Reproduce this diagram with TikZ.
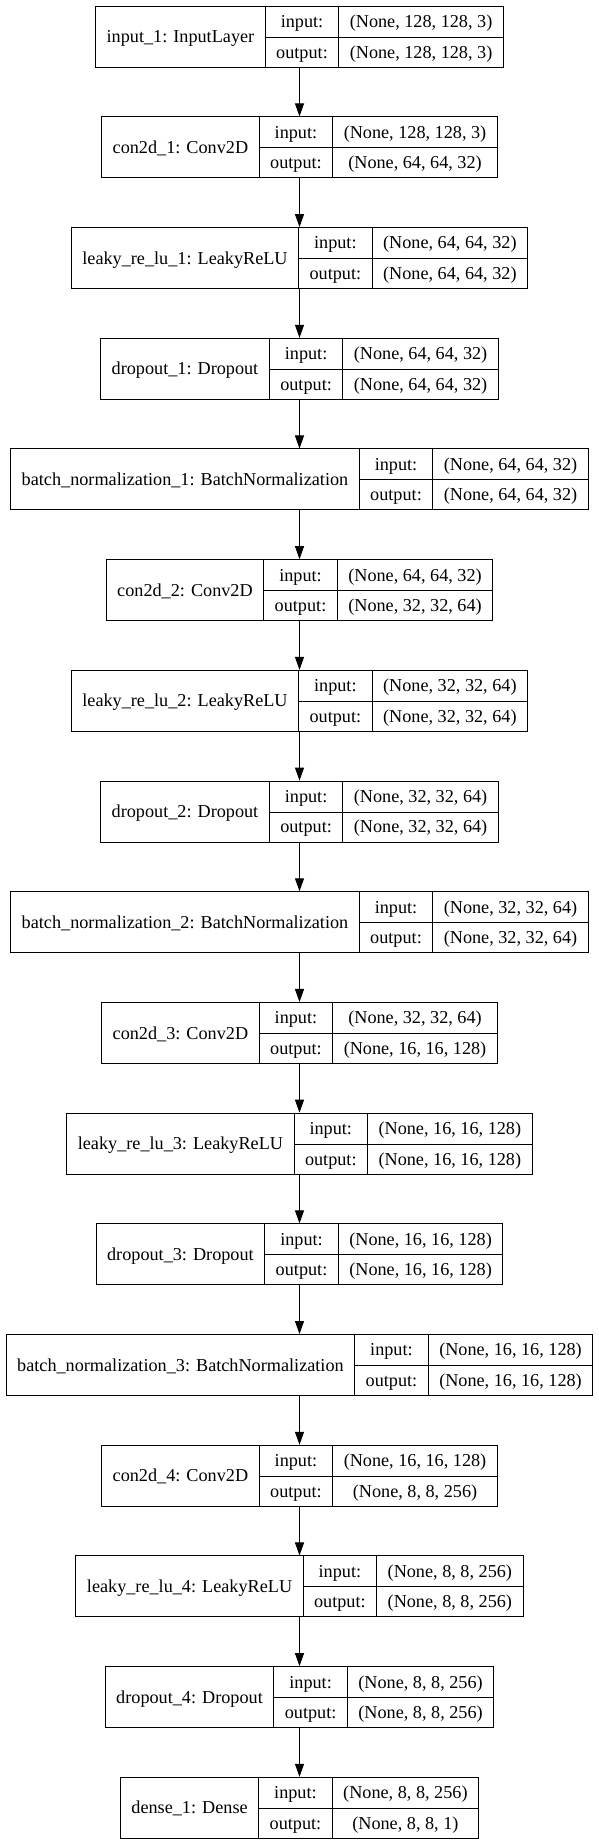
\documentclass[tikz,border=0pt]{standalone}
\usepackage{fontspec}
\setmainfont{Liberation Serif}
\usetikzlibrary{arrows.meta,positioning}

\setlength{\tabcolsep}{5.5pt}
\setlength{\arrayrulewidth}{0.5pt}
\renewcommand{\arraystretch}{1.399}
\newcommand{\layerrec}[3]{%
  \begin{tabular}{c|c|c}
    \raisebox{-7.625pt}[0pt][0pt]{#1} & input: & #2\\ \cline{2-3}
    & output: & #3
  \end{tabular}}

\begin{document}
\begin{tikzpicture}[>={Triangle[length=6.5pt,width=4.5pt]},node distance=24.35pt,
                    line width=0.5pt,layer node/.style={draw,inner sep=0pt,font=\fontsize{9.1}{10.9}\selectfont}]
  \useasboundingbox (-149.75pt,18.35pt) rectangle (149.75pt,-903.65pt);
  \node[layer node] (1) at (0,0) {\layerrec{input\_1: InputLayer}{(None, 128, 128, 3)}{(None, 128, 128, 3)}};
  \node[layer node] (2) [below=of 1] {\layerrec{con2d\_1: Conv2D}{(None, 128, 128, 3)}{(None, 64, 64, 32)}};
  \node[layer node] (3) [below=of 2] {\layerrec{leaky\_re\_lu\_1: LeakyReLU}{(None, 64, 64, 32)}{(None, 64, 64, 32)}};
  \node[layer node] (4) [below=of 3] {\layerrec{dropout\_1: Dropout}{(None, 64, 64, 32)}{(None, 64, 64, 32)}};
  \node[layer node] (5) [below=of 4] {\layerrec{batch\_normalization\_1: BatchNormalization}{(None, 64, 64, 32)}{(None, 64, 64, 32)}};
  \node[layer node] (6) [below=of 5] {\layerrec{con2d\_2: Conv2D}{(None, 64, 64, 32)}{(None, 32, 32, 64)}};
  \node[layer node] (7) [below=of 6] {\layerrec{leaky\_re\_lu\_2: LeakyReLU}{(None, 32, 32, 64)}{(None, 32, 32, 64)}};
  \node[layer node] (8) [below=of 7] {\layerrec{dropout\_2: Dropout}{(None, 32, 32, 64)}{(None, 32, 32, 64)}};
  \node[layer node] (9) [below=of 8] {\layerrec{batch\_normalization\_2: BatchNormalization}{(None, 32, 32, 64)}{(None, 32, 32, 64)}};
  \node[layer node] (10) [below=of 9] {\layerrec{con2d\_3: Conv2D}{(None, 32, 32, 64)}{(None, 16, 16, 128)}};
  \node[layer node] (11) [below=of 10] {\layerrec{leaky\_re\_lu\_3: LeakyReLU}{(None, 16, 16, 128)}{(None, 16, 16, 128)}};
  \node[layer node] (12) [below=of 11] {\layerrec{dropout\_3: Dropout}{(None, 16, 16, 128)}{(None, 16, 16, 128)}};
  \node[layer node] (13) [below=of 12] {\layerrec{batch\_normalization\_3: BatchNormalization}{(None, 16, 16, 128)}{(None, 16, 16, 128)}};
  \node[layer node] (14) [below=of 13] {\layerrec{con2d\_4: Conv2D}{(None, 16, 16, 128)}{(None, 8, 8, 256)}};
  \node[layer node] (15) [below=of 14] {\layerrec{leaky\_re\_lu\_4: LeakyReLU}{(None, 8, 8, 256)}{(None, 8, 8, 256)}};
  \node[layer node] (16) [below=of 15] {\layerrec{dropout\_4: Dropout}{(None, 8, 8, 256)}{(None, 8, 8, 256)}};
  \node[layer node] (17) [below=of 16] {\layerrec{dense\_1: Dense}{(None, 8, 8, 256)}{(None, 8, 8, 1)}};
  \path[->]
    (1) edge (2)
    (2) edge (3)
    (3) edge (4)
    (4) edge (5)
    (5) edge (6)
    (6) edge (7)
    (7) edge (8)
    (8) edge (9)
    (9) edge (10)
    (10) edge (11)
    (11) edge (12)
    (12) edge (13)
    (13) edge (14)
    (14) edge (15)
    (15) edge (16)
    (16) edge (17);
\end{tikzpicture}
\end{document}
